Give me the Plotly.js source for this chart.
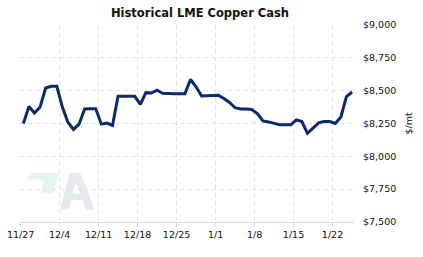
<!DOCTYPE html>
<html>
<head>
<meta charset="utf-8">
<script src="https://cdn.plot.ly/plotly-3.0.1.min.js"></script>
<style>html,body{margin:0;padding:0;background:#fff;}#chart{width:423px;height:257px;}</style>
</head>
<body>
<div id="chart"></div>
<script>
// Daily LME copper cash price, $/mt, starting 2023-11-27
var startDate = '2023-11-27';
var prices = [
  8250, 8380, 8330, 8375, 8520, 8533, 8533, 8375, 8260, 8205,
  8245, 8360, 8362, 8362, 8245, 8253, 8235, 8457, 8457, 8457,
  8457, 8395, 8485, 8482, 8503, 8480, 8477, 8477, 8477, 8477,
  8585, 8530, 8460, 8460, 8460, 8465, 8440, 8410, 8370, 8360,
  8360, 8357, 8325, 8270, 8262, 8250, 8240, 8240, 8240, 8278,
  8265, 8175, 8215, 8255, 8265, 8265, 8250, 8300, 8455, 8490
];
var tickDates = ['2023-11-27','2023-12-04','2023-12-11','2023-12-18','2023-12-25','2024-01-01','2024-01-08','2024-01-15','2024-01-22'];
var tickLabels = ['11/27','12/4','12/11','12/18','12/25','1/1','1/8','1/15','1/22'];
var yTicks = [7500, 7750, 8000, 8250, 8500, 8750, 9000];
var yTickLabels = ['$7,500', '$7,750', '$8,000', '$8,250', '$8,500', '$8,750', '$9,000'];

var dates = prices.map(function(_, i){
  var d = new Date(Date.UTC(2023, 10, 27, 12) + i*86400000);
  return d.toISOString().slice(0,19).replace('T',' ');
});

var W = 423, H = 257, L = 20, R = 69, T = 25, B = 35;
function px(x){ return (x - L) / (W - L - R); }
function py(y){ return (H - B - y) / (H - T - B); }
function path(pts){
  return 'M' + pts.map(function(p){ return px(p[0]) + ',' + py(p[1]); }).join(' L') + ' Z';
}

var font = 'Verdana, "DejaVu Sans", sans-serif';
var trace = {
  x: dates, y: prices, type: 'scatter', mode: 'lines',
  line: {color: '#0b2a66', width: 3}, hoverinfo: 'skip'
};

var layout = {
  width: W, height: H,
  margin: {l: L, r: R, t: T, b: B},
  paper_bgcolor: '#fff', plot_bgcolor: '#fff',
  showlegend: false,
  title: {text: '<b>Historical LME Copper Cash</b>', font: {family: font, size: 11.5, color: '#111'},
          x: 200/W, xanchor: 'center', xref: 'container', y: 1 - 13/H, yanchor: 'middle', yref: 'container'},
  xaxis: {
    type: 'date',
    range: ['2023-11-26 21:30', '2024-01-25 20:30'],
    tickvals: tickDates, ticktext: tickLabels,
    showgrid: true, gridcolor: '#e2e2e2', griddash: '4px,4px', gridwidth: 1,
    showline: true, linecolor: '#dcdcdc', linewidth: 1,
    ticks: 'outside', ticklen: 4, tickcolor: '#dcdcdc',
    tickfont: {family: font, size: 9.5, color: '#111'},
    zeroline: false, fixedrange: true
  },
  yaxis: {
    side: 'right', range: [7500, 9000],
    tickvals: yTicks, ticktext: yTickLabels,
    showgrid: true, gridcolor: '#e2e2e2', griddash: '4px,4px', gridwidth: 1,
    ticks: '', ticklabelstandoff: 8,
    tickfont: {family: font, size: 9.5, color: '#111'},
    title: {text: '$/mt', font: {family: font, size: 9.5, color: '#111'}, standoff: 10},
    zeroline: false, showline: false, fixedrange: true
  },
  shapes: [
    {type: 'path', xref: 'paper', yref: 'paper', layer: 'below', line: {width: 0},
     fillcolor: '#e2f6ed',
     path: path([[30,172.7],[59.3,172.7],[53.3,193.3],[40.7,193.3],[44,179.5],[28,179.5]])},
    {type: 'path', xref: 'paper', yref: 'paper', layer: 'below', line: {width: 0},
     fillcolor: '#e6e9ee',
     path: path([[70,172.7],[80.5,172.7],[94.5,209.5],[86,209.5],[82.5,200],[71.5,200],[68.5,209.5],[60,209.5]])},
    {type: 'path', xref: 'paper', yref: 'paper', layer: 'below', line: {width: 0},
     fillcolor: '#ffffff',
     path: path([[76,183],[80.5,194],[72.5,194]])}
  ]
};

Plotly.newPlot('chart', [trace], layout, {displayModeBar: false, staticPlot: true});
</script>
</body>
</html>
